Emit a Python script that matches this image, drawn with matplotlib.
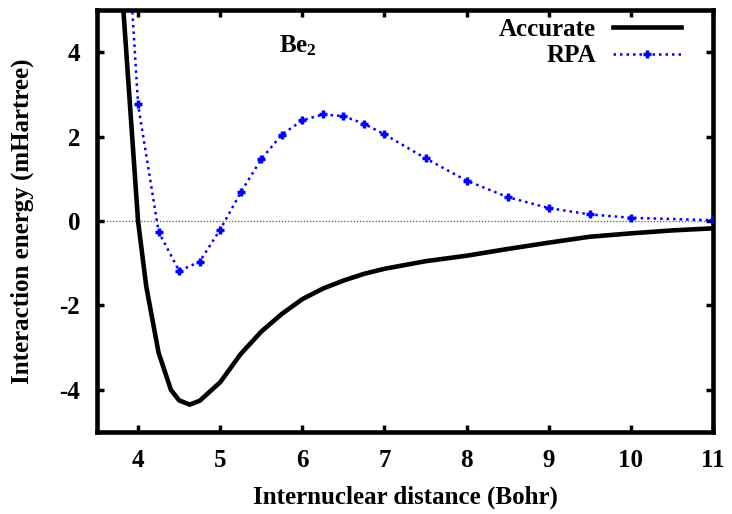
import matplotlib
matplotlib.use("Agg")
import matplotlib.pyplot as plt

# Be2 interaction energy curves (mHartree vs Bohr)
accurate_r = [3.75, 3.9, 4.0, 4.1, 4.25, 4.4, 4.5, 4.63, 4.75, 5.0, 5.25, 5.5, 5.75,
              6.0, 6.25, 6.5, 6.75, 7.0, 7.5, 8.0, 8.5, 9.0, 9.5, 10.0, 10.5, 11.0]
accurate_e = [7.0, 2.8, 0.0, -1.55, -3.12, -4.0, -4.25, -4.35, -4.26, -3.82, -3.15, -2.62, -2.2,
              -1.85, -1.6, -1.41, -1.25, -1.13, -0.95, -0.82, -0.66, -0.51, -0.37, -0.29, -0.22, -0.17]

rpa_r = [3.75, 4.0, 4.25, 4.5, 4.75, 5.0, 5.25, 5.5, 5.75, 6.0, 6.25, 6.5, 6.75,
         7.0, 7.5, 8.0, 8.5, 9.0, 9.5, 10.0, 11.0]
rpa_e = [10.7, 2.77, -0.25, -1.18, -0.96, -0.2, 0.68, 1.47, 2.05, 2.39, 2.53, 2.49, 2.31,
         2.06, 1.49, 0.96, 0.57, 0.31, 0.16, 0.08, 0.02]

xticks = [4, 5, 6, 7, 8, 9, 10, 11]
yticks = [-4, -2, 0, 2, 4]

plt.rcParams['font.family'] = ['Liberation Serif', 'DejaVu Serif']
plt.rcParams['font.weight'] = 'bold'
plt.rcParams['axes.unicode_minus'] = False
plt.rcParams['mathtext.fontset'] = 'custom'
plt.rcParams['mathtext.rm'] = 'Liberation Serif:bold'
plt.rcParams['mathtext.bf'] = 'Liberation Serif:bold'

fig = plt.figure(figsize=(7.32, 5.14), dpi=100)
ax = fig.add_axes([0.1325, 0.1595, 0.8415, 0.8205])

ax.axhline(0, color='#555555', lw=0.9, ls=(0, (1, 1.5)), zorder=1)
ax.plot(accurate_r, accurate_e, color='black', lw=3.3, label='Accurate', zorder=3)
ax.plot(rpa_r, rpa_e, color='#0000ff', lw=1.8, ls=(0, (1, 1.6)), marker='+',
        markersize=6, markeredgewidth=2.5, label='RPA', zorder=4)

ax.set_xlim(3.5, 11)
ax.set_ylim(-5, 5)
ax.set_xticks(xticks)
ax.set_yticks(yticks)
ax.tick_params(direction='in', length=5, width=2.5, labelsize=18, pad=12,
               top=True, right=True)
for lab in ax.get_xticklabels() + ax.get_yticklabels():
    lab.set_fontweight('bold')
for sp in ax.spines.values():
    sp.set_linewidth(3.3)

ax.set_xlabel('Internuclear distance (Bohr)', fontsize=18, fontweight='bold', labelpad=10)
ax.set_ylabel('Interaction energy (mHartree)', fontsize=18, fontweight='bold', labelpad=18)

ax.text(5.72, 4.16, r'$\mathbf{Be_2}$', fontsize=18, va='center', ha='left')

leg = ax.legend(loc='upper right', bbox_to_anchor=(0.968, 1.012), frameon=False,
                markerfirst=False, handlelength=2.7, numpoints=1, fontsize=18,
                labelspacing=0.15, handletextpad=0.7, borderaxespad=0.1)

fig.savefig('out.png', dpi=100)
